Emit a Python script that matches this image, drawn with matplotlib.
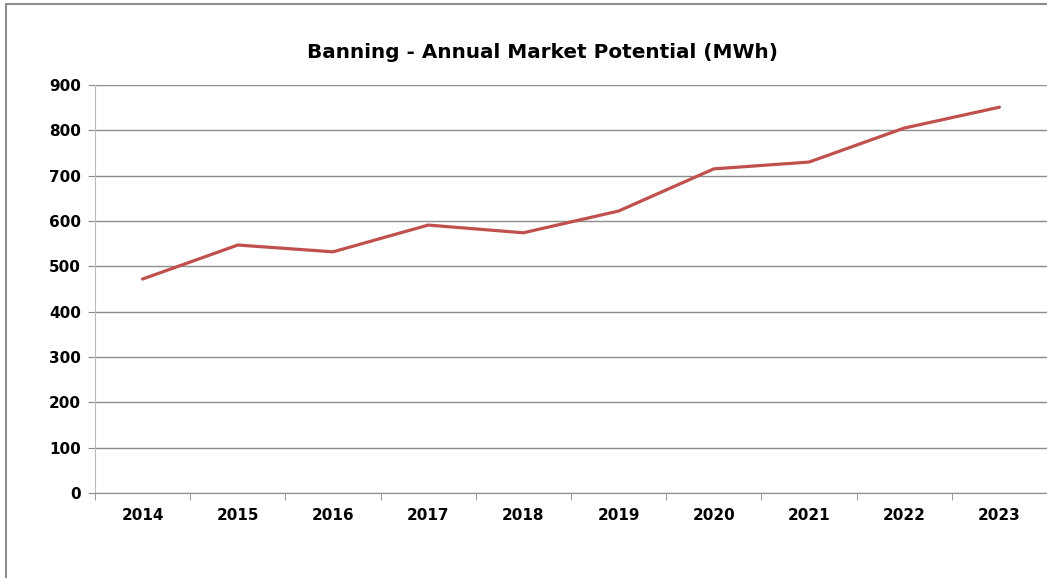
"""Banning annual market potential line chart."""

import matplotlib.pyplot as plt
import matplotlib.patches as mpatches

years = ['2014', '2015', '2016', '2017', '2018', '2019', '2020', '2021', '2022', '2023']
potential_mwh = [472, 547, 532, 591, 574, 622, 715, 730, 805, 851]
y_ticks = [0, 100, 200, 300, 400, 500, 600, 700, 800, 900]

fig = plt.figure(figsize=(10.47, 5.78), dpi=100)
ax = fig.add_axes([95 / 1047, 1 - 493 / 578, 1 - 95 / 1047, 408 / 578])

x = list(range(len(years)))
ax.plot(x, potential_mwh, color='#C0504D', linewidth=2.3, solid_capstyle='round', zorder=3)

ax.set_xlim(-0.5, len(years) - 0.5)
ax.set_ylim(0, 900)
ax.set_yticks(y_ticks)
ax.set_xticks(x)
ax.set_xticklabels(years)
ax.set_xticks([i - 0.5 for i in range(len(years) + 1)], minor=True)

ax.grid(axis='y', color='#8c8c8c', linewidth=1.0)
ax.set_axisbelow(True)
for side in ['top', 'right']:
    ax.spines[side].set_visible(False)
ax.spines['left'].set_color('#bcbcbc')
ax.spines['bottom'].set_color('#8c8c8c')

ax.tick_params(axis='y', length=5, color='#8c8c8c', labelsize=11, pad=5)
ax.tick_params(axis='x', which='major', length=0, labelsize=11, pad=11)
ax.tick_params(axis='x', which='minor', length=5, color='#8c8c8c')
for lbl in ax.get_xticklabels() + ax.get_yticklabels():
    lbl.set_fontweight('bold')

fig.text(0.518, 0.91, 'Banning - Annual Market Potential (MWh)', ha='center', va='center',
         fontsize=14.4, fontweight='bold')

# outer chart border (left and top edges visible)
border = mpatches.Rectangle((6 / 1047, -0.1), 1.2, 1 - 4 / 578 + 0.1, transform=fig.transFigure,
                            fill=False, edgecolor='#8c8c8c', linewidth=1.5)
fig.patches.append(border)

plt.savefig('out.png', dpi=100)
